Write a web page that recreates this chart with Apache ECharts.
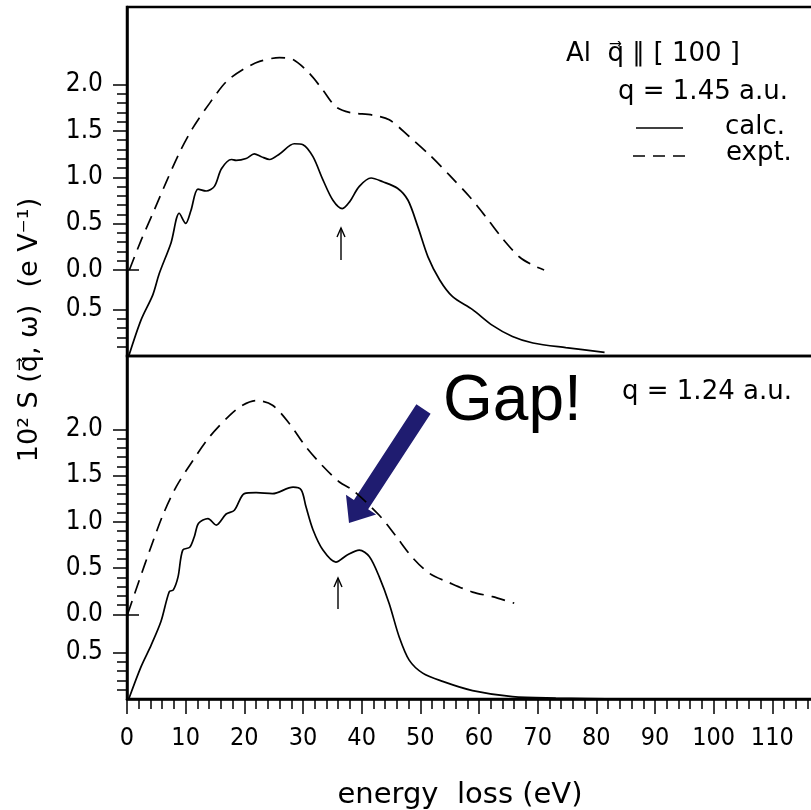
<!DOCTYPE html>
<html><head><meta charset="utf-8">
<script src="https://cdn.jsdelivr.net/npm/echarts@6/dist/echarts.min.js"></script>
<style>html,body{margin:0;padding:0;background:#fff}#c{width:811px;height:810px}</style>
</head><body><div id="c"></div>
<script>
// ---- data (energy loss in eV, S in 10^-2 eV^-1) ----
const topCalcX = [0.3, 2.4, 4.4, 5.5, 7.5, 8.9, 10.0, 10.9, 12.1, 13.5, 14.9, 16.1, 17.8, 18.6, 20.3, 21.7, 22.9, 24.3, 26.0, 28.5, 30.0, 31.7, 33.4, 35.1, 36.7, 37.9, 39.6, 41.6, 43.6, 46.1, 47.9, 49.6, 51.3, 53.3, 55.5, 58.9, 62.3, 65.7, 69.2, 74.8, 81.4];
const topCalcY = [0, 0.39, 0.66, 0.89, 1.22, 1.54, 1.43, 1.57, 1.80, 1.78, 1.83, 2.02, 2.12, 2.11, 2.13, 2.18, 2.15, 2.12, 2.18, 2.29, 2.28, 2.15, 1.90, 1.68, 1.59, 1.66, 1.83, 1.92, 1.88, 1.81, 1.68, 1.39, 1.07, 0.82, 0.64, 0.50, 0.33, 0.21, 0.14, 0.09, 0.04];
const topExptX = [0.4, 2.4, 4.4, 6.7, 8.9, 11.2, 14.1, 16.9, 19.7, 22.6, 26.0, 28.3, 31.1, 33.4, 35.6, 37.9, 41.9, 44.7, 48.1, 51.6, 55.0, 58.4, 61.2, 64.0, 66.9, 69.2, 71.1];
const topExptY = [0.0, 0.32, 0.61, 0.95, 1.26, 1.53, 1.80, 2.03, 2.16, 2.25, 2.29, 2.27, 2.12, 1.94, 1.76, 1.70, 1.67, 1.62, 1.44, 1.24, 1.02, 0.79, 0.57, 0.34, 0.14, 0.05, 0.0];
const botCalcX = [0.3, 2.4, 4.1, 5.8, 7.2, 7.9, 8.7, 9.5, 10.7, 11.5, 12.2, 13.8, 15.2, 16.9, 18.3, 20.0, 22.0, 24.8, 28.3, 29.7, 30.5, 31.7, 33.4, 35.6, 37.6, 39.6, 41.3, 43.0, 44.7, 46.4, 48.1, 50.4, 53.8, 58.9, 65.7, 73.1, 85.0];
const botCalcY = [0, 0.35, 0.58, 0.84, 1.16, 1.18, 1.32, 1.61, 1.64, 1.76, 1.90, 1.95, 1.88, 2.00, 2.04, 2.22, 2.23, 2.22, 2.29, 2.26, 2.08, 1.83, 1.61, 1.48, 1.56, 1.61, 1.54, 1.32, 1.03, 0.67, 0.42, 0.28, 0.19, 0.09, 0.025, 0.01, 0];
const botExptX = [0.1, 2.1, 4.1, 6.1, 8.4, 10.9, 14.1, 17.5, 19.7, 22.0, 24.8, 27.7, 30.5, 33.4, 36.2, 38.5, 43.0, 45.9, 48.7, 51.6, 55.0, 58.9, 62.3, 66.0];
const botExptY = [0.0, 0.37, 0.73, 1.07, 1.38, 1.63, 1.92, 2.15, 2.26, 2.31, 2.26, 2.06, 1.81, 1.60, 1.43, 1.34, 1.07, 0.84, 0.61, 0.44, 0.34, 0.24, 0.19, 0.12];

// tick labels
const xMajorTicks = [0, 10, 20, 30, 40, 50, 60, 70, 80, 90, 100, 110];
const yExptMajorTicks = [0, 0.5, 1.0, 1.5, 2.0];
const yCalcMajorTicks = [0.5];
const panelLabels = ['q = 1.45 a.u.', 'q = 1.24 a.u.'];

// ---- derived tick lists ----
const xMinorTicks = [];
for (let v = 2; v < 120; v += 2) if (v % 10 !== 0) xMinorTicks.push(v);
const yCalcMinor = [0.1, 0.2, 0.3, 0.4];
const yExptMinor = [];
for (let i = 1; i < 20; i++) if (i % 5 !== 0) yExptMinor.push(+(i / 10).toFixed(1));

const zip = (a, b) => a.map((x, i) => [x, b[i]]);
const FONT = '"DejaVu Sans", sans-serif';
const TICKFONT = '"DejaVu Sans Condensed", "DejaVu Sans", sans-serif';
const BLACK = '#000';

const panels = [
  { grid: { left: 127, top: 7, right: -20, height: 349 }, calcMax: 3.765, off: 0.928 },
  { grid: { left: 127, top: 356, right: -20, height: 343 }, calcMax: 3.708, off: 0.916 }
];

const grids = panels.map(p => Object.assign({ show: true, borderColor: BLACK, borderWidth: 2.5, containLabel: false, outerBoundsMode: 'none' }, p.grid));

function baseY(g, min, max) {
  return { type: 'value', gridIndex: g, position: 'left', offset: 0, min: min, max: max, splitLine: { show: false },
    axisLine: { show: false }, axisLabel: { show: false }, axisTick: { show: false } };
}
const tickStyle = { color: BLACK, width: 1.5 };
const labelStyle = { color: BLACK, fontSize: 26, fontFamily: TICKFONT, margin: 24, formatter: v => (+v).toFixed(1) };

const yAxes = [];
panels.forEach((p, g) => {
  const cmin = 0, cmax = p.calcMax, emin = -p.off, emax = p.calcMax - p.off;
  const a0 = baseY(g, cmin, cmax);
  a0.axisLine = { show: true, onZero: false, lineStyle: { color: BLACK, width: 2.5 } };
  a0.axisTick = { show: true, customValues: yCalcMajorTicks, length: 14, lineStyle: tickStyle };
  a0.axisLabel = Object.assign({ show: true, customValues: yCalcMajorTicks }, labelStyle);
  const a1 = baseY(g, cmin, cmax);
  a1.axisTick = { show: true, customValues: yCalcMinor, length: 10, lineStyle: tickStyle };
  const a2 = baseY(g, emin, emax);
  a2.axisTick = { show: true, customValues: yExptMajorTicks, length: 14, lineStyle: tickStyle };
  a2.axisLabel = Object.assign({ show: true, customValues: yExptMajorTicks }, labelStyle);
  const a3 = baseY(g, emin, emax);
  a3.axisTick = { show: true, customValues: yExptMinor, length: 10, lineStyle: tickStyle };
  const a4 = baseY(g, emin, emax);
  a4.axisTick = { show: true, inside: true, customValues: [0], length: 12, lineStyle: tickStyle };
  yAxes.push(a0, a1, a2, a3, a4);
});

const xAxes = [
  { type: 'value', gridIndex: 0, position: 'bottom', min: 0, max: 120, show: false },
  { type: 'value', gridIndex: 1, position: 'bottom', offset: 0, min: 0, max: 120, splitLine: { show: false },
    axisLine: { show: true, onZero: false, lineStyle: { color: BLACK, width: 2.5 } },
    axisTick: { show: true, customValues: xMajorTicks, length: 15, lineStyle: tickStyle },
    axisLabel: { show: true, customValues: xMajorTicks, color: BLACK, fontSize: 25, fontFamily: TICKFONT, margin: 27 } },
  { type: 'value', gridIndex: 1, position: 'bottom', offset: 0, min: 0, max: 120, splitLine: { show: false },
    axisLine: { show: false, onZero: false }, axisLabel: { show: false },
    axisTick: { show: true, customValues: xMinorTicks, length: 10, lineStyle: tickStyle } }
];

function lineSeries(name, xi, yi, data, dashed) {
  return { type: 'line', name: name, xAxisIndex: xi, yAxisIndex: yi, data: data, symbol: 'none',
    smooth: 0.3, clip: true, silent: true,
    lineStyle: { color: BLACK, width: 1.7, type: dashed ? [14, 8] : 'solid' } };
}
const series = [
  lineSeries('calc', 0, 0, zip(topCalcX, topCalcY), false),
  lineSeries('expt', 0, 2, zip(topExptX, topExptY), true),
  lineSeries('calc', 1, 5, zip(botCalcX, botCalcY), false),
  lineSeries('expt', 1, 7, zip(botExptX, botExptY), true)
];

// ---- annotations ----
function txt(text, x, y, size, align, family, extra) {
  return Object.assign({ type: 'text', x: x, y: y, silent: true,
    style: { text: text, font: size + 'px ' + (family || FONT), fill: BLACK, textAlign: align || 'left', textVerticalAlign: 'middle' } }, extra || {});
}
function upArrow(x, yTip, yTail) {
  return [
    { type: 'line', silent: true, shape: { x1: x, y1: yTail, x2: x, y2: yTip }, style: { stroke: BLACK, lineWidth: 1.4 } },
    { type: 'polyline', silent: true, shape: { points: [[x - 4, yTip + 9], [x, yTip], [x + 4, yTip + 9]] }, style: { stroke: BLACK, lineWidth: 1.4, fill: null } }
  ];
}
const S = [423.5, 409], T = [349, 523];
const L = Math.hypot(T[0] - S[0], T[1] - S[1]);
const u = [(T[0] - S[0]) / L, (T[1] - S[1]) / L], n = [u[1], -u[0]];
const B = [T[0] - 22 * u[0], T[1] - 22 * u[1]];
const P = (c, k) => [c[0] + k * n[0], c[1] + k * n[1]];
const arrowPts = [P(S, 8.5), P(B, 8.5), P(B, 18), T, P(B, -18), P(B, -8.5), P(S, -8.5)];

const graphics = [
  txt('Al  q\u20D7 \u2225 [ 100 ]', 566, 54, 26),
  txt(panelLabels[0], 618, 92, 26),
  txt('calc.', 725, 127, 26),
  txt('expt.', 726, 153, 26),
  { type: 'line', silent: true, shape: { x1: 636, y1: 128, x2: 683, y2: 128 }, style: { stroke: BLACK, lineWidth: 1.5 } },
  { type: 'line', silent: true, shape: { x1: 633, y1: 156, x2: 685, y2: 156 }, style: { stroke: BLACK, lineWidth: 1.5, lineDash: [12, 8] } },
  txt(panelLabels[1], 622, 392, 26),
  txt('Gap!', 443, 402, 64, 'left', '"Liberation Sans", Arial, sans-serif'),
  { type: 'polygon', silent: true, shape: { points: arrowPts }, style: { fill: '#1f1c70' } },
  txt('energy  loss (eV)', 460, 795, 29, 'center'),
  txt('10\u00B2 S (q\u20D7, \u03C9)  (e V\u207B\u00B9)', 30, 330, 27, 'center', null, { rotation: Math.PI / 2 })
].concat(upArrow(341, 228, 260), upArrow(338, 578, 609));

const chart = echarts.init(document.getElementById('c'), null, { renderer: 'canvas' });
chart.setOption({
  animation: false,
  backgroundColor: '#fff',
  grid: grids,
  xAxis: xAxes,
  yAxis: yAxes,
  series: series,
  graphic: graphics
});
</script></body></html>
